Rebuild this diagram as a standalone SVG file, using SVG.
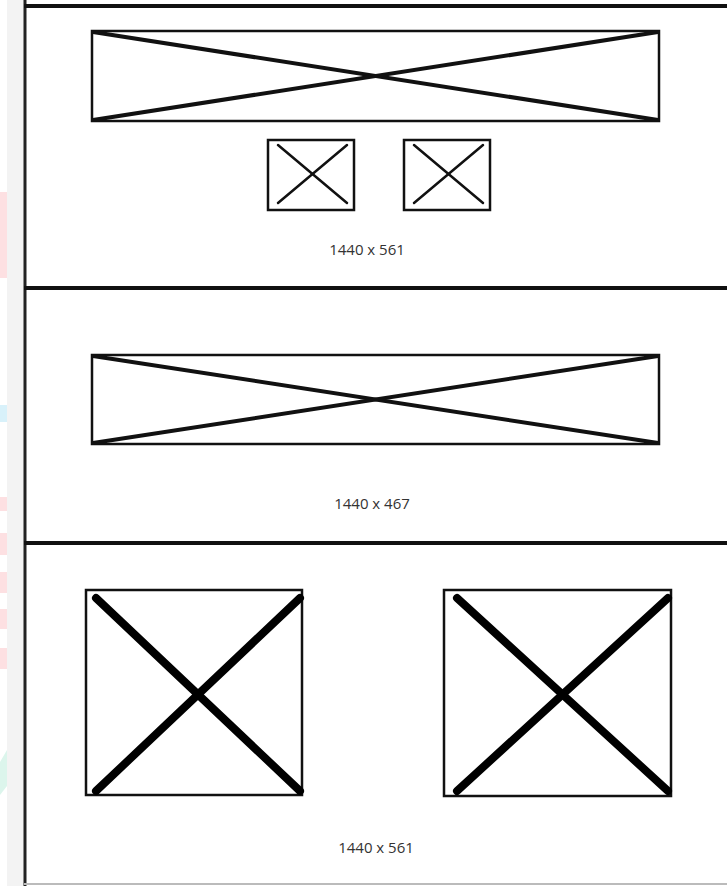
<svg xmlns="http://www.w3.org/2000/svg" width="727" height="886" viewBox="0 0 727 886">
<style>
.frame{fill:none;stroke:#111;stroke-width:2.5}
.xthin{stroke:#111;stroke-width:2.5;stroke-linecap:round}
.xmid{stroke:#111;stroke-width:4;stroke-linecap:round}
.xbig{stroke:#000;stroke-width:8;stroke-linecap:round}
.lbl{font-family:"Open Sans","Liberation Sans",sans-serif;font-size:15px;fill:#333;text-anchor:middle}
.div{stroke:#111;stroke-width:4}
</style>
<rect x="0" y="0" width="727" height="886" fill="#fff"/>
<g id="sidebar">
<rect x="7" y="0" width="17" height="886" fill="#f3f3f3"/>
<rect x="0" y="192" width="7" height="86" fill="#fde0e2"/>
<rect x="0" y="405" width="7" height="17" fill="#d8f1fa"/>
<rect x="0" y="497" width="7" height="14" fill="#fde0e2"/>
<rect x="0" y="533" width="7" height="22" fill="#fde0e2"/>
<rect x="0" y="572" width="7" height="21" fill="#fde0e2"/>
<rect x="0" y="609" width="7" height="20" fill="#fde0e2"/>
<rect x="0" y="648" width="7" height="21" fill="#fde0e2"/>
<polygon points="0,762 7,750 7,786 0,795" fill="#dcf5ec"/>
</g>
<g id="borders">
<line x1="25" y1="0" x2="25" y2="886" stroke="#222" stroke-width="3"/>
<line x1="24" y1="6" x2="727" y2="6" class="div" stroke-width="5"/>
<line x1="24" y1="288" x2="727" y2="288" class="div"/>
<line x1="24" y1="543" x2="727" y2="543" class="div"/>
<line x1="24" y1="884" x2="727" y2="884" stroke="#bbb" stroke-width="2"/>
</g>
<g id="hero-image">
<rect x="92" y="31" width="567" height="90" class="frame"/>
<line x1="93" y1="32" x2="658" y2="120" class="xmid"/>
<line x1="93" y1="120" x2="658" y2="32" class="xmid"/>
</g>
<g id="icon-1">
<rect x="268" y="140" width="86" height="70" class="frame"/>
<line x1="278" y1="145" x2="347" y2="203" class="xthin"/>
<line x1="278" y1="203" x2="347" y2="145" class="xthin"/>
</g>
<g id="icon-2">
<rect x="404" y="140" width="86" height="70" class="frame"/>
<line x1="414" y1="145" x2="483" y2="203" class="xthin"/>
<line x1="414" y1="203" x2="483" y2="145" class="xthin"/>
</g>
<g id="label-1"><text x="367" y="255" class="lbl">1440 x 561</text></g>
<g id="banner-image">
<rect x="92" y="355" width="567" height="89" class="frame"/>
<line x1="93" y1="356" x2="658" y2="443" class="xmid"/>
<line x1="93" y1="443" x2="658" y2="356" class="xmid"/>
</g>
<g id="label-2"><text x="372" y="509" class="lbl">1440 x 467</text></g>
<g id="image-left">
<rect x="86" y="590" width="216" height="205" class="frame" stroke-width="2"/>
<line x1="96" y1="598" x2="300" y2="791" class="xbig"/>
<line x1="96" y1="791" x2="300" y2="598" class="xbig"/>
</g>
<g id="image-right">
<rect x="444" y="590" width="227" height="206" class="frame" stroke-width="2"/>
<line x1="457" y1="598" x2="668" y2="791" class="xbig"/>
<line x1="457" y1="791" x2="668" y2="598" class="xbig"/>
</g>
<g id="label-3"><text x="376" y="853" class="lbl">1440 x 561</text></g>
<g id="connectors"></g>
</svg>
